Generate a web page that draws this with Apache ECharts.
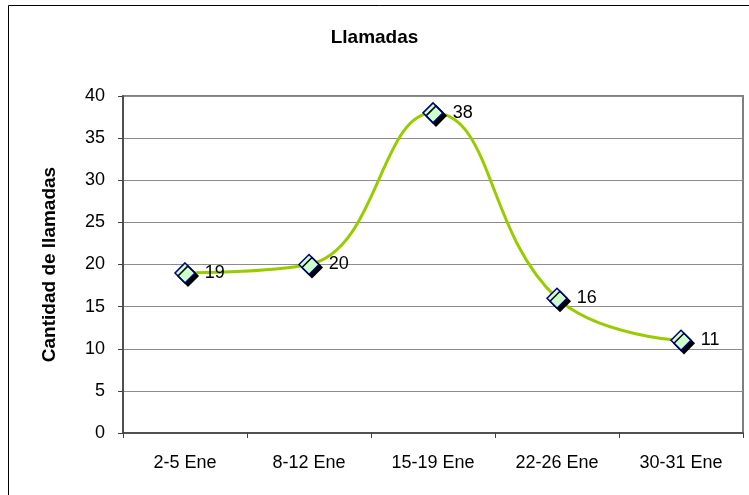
<!DOCTYPE html>
<html><head><meta charset="utf-8">
<script src="https://cdn.jsdelivr.net/npm/echarts@6/dist/echarts.min.js"></script>
<style>html,body{margin:0;padding:0;background:#fff}#c{width:749px;height:495px}</style>
</head><body><div id="c"></div>
<script>
const categories = ['2-5 Ene','8-12 Ene','15-19 Ene','22-26 Ene','30-31 Ene'];
const values = [19, 20, 38, 16, 11];
const yTicks = [0,5,10,15,20,25,30,35,40];

const F = 'Liberation Sans, Arial';
const chart = echarts.init(document.getElementById('c'));
chart.setOption({
  animation: false,
  title: {text:'Llamadas', left:'center', top:23, textStyle:{fontFamily:F, fontWeight:'bold', fontSize:19, color:'#000'}},
  graphic: [{type:'rect', shape:{x:8.5,y:5.5,width:760,height:500}, style:{fill:'none', stroke:'#000', lineWidth:1}, silent:true}],
  grid: {left:123, right:6, top:96, bottom:62, show:true, borderColor:'#808080', borderWidth:2, backgroundColor:'#fff'},
  xAxis: {type:'category', data:categories, boundaryGap:true,
    axisLine:{lineStyle:{color:'#404040', width:1.5}},
    axisTick:{show:true, length:5, inside:false, lineStyle:{color:'#404040'}},
    axisLabel:{fontFamily:F, fontSize:18, color:'#000', margin:21}},
  yAxis: {type:'value', min:yTicks[0], max:yTicks[yTicks.length-1], interval:5,
    name:'Cantidad de llamadas', nameLocation:'middle', nameGap:64, nameRotate:90,
    nameTextStyle:{fontFamily:F, fontWeight:'bold', fontSize:19, color:'#000'},
    axisLine:{show:true, lineStyle:{color:'#404040', width:1.5}},
    axisTick:{show:true, length:5, lineStyle:{color:'#404040'}},
    axisLabel:{fontFamily:F, fontSize:18, color:'#000', margin:18},
    splitLine:{lineStyle:{color:'#8c8c8c', width:1}}},
  series: [{type:'line', data:values, smooth:0.45,
    lineStyle:{color:'#99cc00', width:3},
    symbol:'diamond', symbolSize:20,
    itemStyle:{color:'#ccffcc', borderColor:'#000080', borderWidth:1.5, shadowColor:'#000', shadowBlur:0, shadowOffsetX:3, shadowOffsetY:3},
    label:{show:true, position:'right', distance:9, fontFamily:F, fontSize:18, color:'#000'}}]
});
</script></body></html>
